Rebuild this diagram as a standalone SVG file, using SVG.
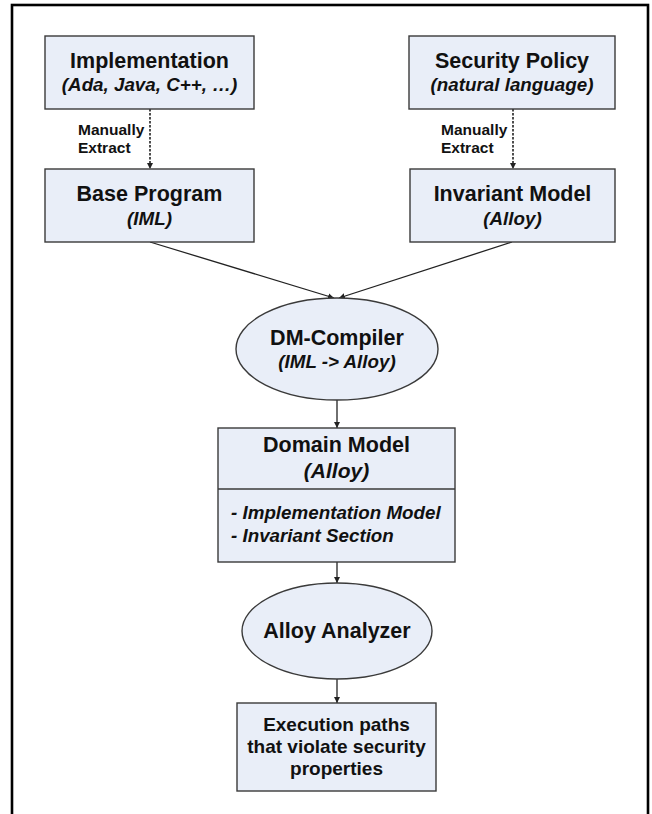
<svg xmlns="http://www.w3.org/2000/svg" width="652" height="814" viewBox="0 0 652 814">
<defs>
<style>
.box{fill:#E9EEF8;stroke:#3a3a3a;stroke-width:1.4}
.t{font-family:"Liberation Sans",Arial,sans-serif;font-weight:bold;fill:#111;text-anchor:middle}
.h{font-size:21.5px}
.s{font-size:18.8px;font-style:italic}
.m{font-size:15.5px;text-anchor:start}
.e{font-size:19px}
.c{stroke:#222;stroke-width:1.3;fill:none}
.d{stroke:#222;stroke-width:1.6;fill:none;stroke-dasharray:2.5 1.5}
</style>
<marker id="ah" viewBox="0 0 10 10" refX="10" refY="5" markerWidth="6" markerHeight="6" markerUnits="userSpaceOnUse" orient="auto">
<path d="M0,0 L10,5 L0,10 z" fill="#222"/>
</marker>
</defs>
<rect width="652" height="814" fill="#fff"/>
<rect x="12" y="5" width="636" height="830" fill="none" stroke="#000" stroke-width="2.6"/>

<g id="connectors">
<line class="d" x1="150" y1="109" x2="150" y2="169" marker-end="url(#ah)"/>
<line class="d" x1="513" y1="109" x2="513" y2="169" marker-end="url(#ah)"/>
<line class="c" x1="150" y1="242" x2="334" y2="298" marker-end="url(#ah)"/>
<line class="c" x1="512" y1="242" x2="339" y2="298" marker-end="url(#ah)"/>
<line class="c" x1="337" y1="400" x2="337" y2="428" marker-end="url(#ah)"/>
<line class="c" x1="337" y1="562" x2="337" y2="583" marker-end="url(#ah)"/>
<line class="c" x1="337" y1="679" x2="337" y2="703" marker-end="url(#ah)"/>
<text class="t m" x="78" y="135">Manually</text>
<text class="t m" x="78" y="153">Extract</text>
<text class="t m" x="441" y="135">Manually</text>
<text class="t m" x="441" y="153">Extract</text>
</g>

<g id="implementation">
<rect class="box" x="45" y="36" width="209" height="73"/>
<text class="t h" x="149.5" y="68">Implementation</text>
<text class="t s" x="149.5" y="91">(Ada, Java, C++, …)</text>
</g>

<g id="security-policy">
<rect class="box" x="409" y="36" width="206" height="73"/>
<text class="t h" x="512" y="68">Security Policy</text>
<text class="t s" x="512" y="91">(natural language)</text>
</g>

<g id="base-program">
<rect class="box" x="45" y="169" width="209" height="73"/>
<text class="t h" x="149.5" y="201">Base Program</text>
<text class="t s" x="149.5" y="225">(IML)</text>
</g>

<g id="invariant-model">
<rect class="box" x="410" y="169" width="205" height="73"/>
<text class="t h" x="512.5" y="201">Invariant Model</text>
<text class="t s" x="512.5" y="225">(Alloy)</text>
</g>

<g id="dm-compiler">
<ellipse class="box" cx="337" cy="349" rx="101" ry="51"/>
<text class="t h" x="337" y="345">DM-Compiler</text>
<text class="t s" x="337" y="368">(IML -&gt; Alloy)</text>
</g>

<g id="domain-model">
<rect class="box" x="218" y="428" width="237" height="134"/>
<line class="box" x1="218" y1="489" x2="455" y2="489"/>
<text class="t h" x="336.5" y="452">Domain Model</text>
<text class="t s" x="336.5" y="478" style="font-size:21px">(Alloy)</text>
<text class="t s" x="231" y="519" style="text-anchor:start">- Implementation Model</text>
<text class="t s" x="231" y="542" style="text-anchor:start">- Invariant Section</text>
</g>

<g id="alloy-analyzer">
<ellipse class="box" cx="337" cy="631" rx="95" ry="48"/>
<text class="t h" x="337" y="638">Alloy Analyzer</text>
</g>

<g id="execution-paths">
<rect class="box" x="237" y="703" width="199" height="88"/>
<text class="t e" x="336.5" y="731">Execution paths</text>
<text class="t e" x="336.5" y="753">that violate security</text>
<text class="t e" x="336.5" y="775">properties</text>
</g>
</svg>
